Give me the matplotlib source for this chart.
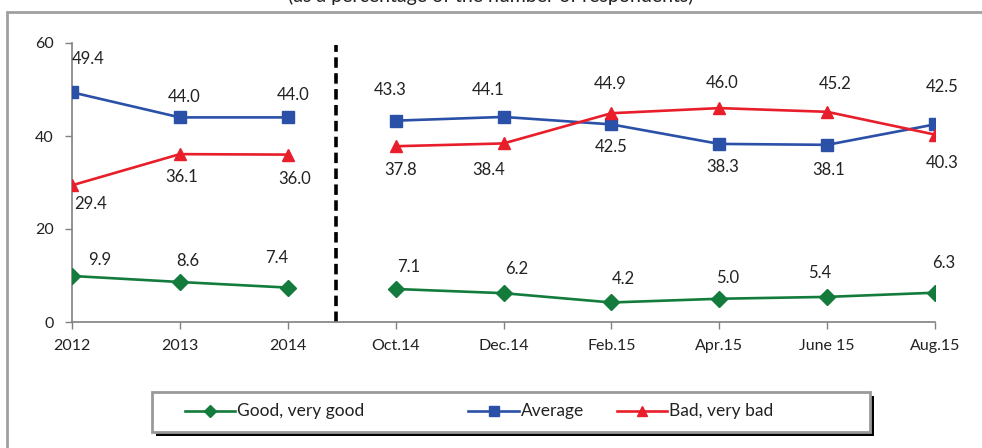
import matplotlib.pyplot as plt
import numpy as np
from matplotlib.lines import Line2D
from matplotlib.patches import Rectangle

plt.rcParams['font.family'] = ['Lato', 'DejaVu Sans']

periods = ['2012', '2013', '2014', 'Oct.14', 'Dec.14', 'Feb.15', 'Apr.15', 'June 15', 'Aug.15']
good = [9.9, 8.6, 7.4, 7.1, 6.2, 4.2, 5.0, 5.4, 6.3]
average = [49.4, 44.0, 44.0, 43.3, 44.1, 42.5, 38.3, 38.1, 42.5]
bad = [29.4, 36.1, 36.0, 37.8, 38.4, 44.9, 46.0, 45.2, 40.3]
n_annual = 3  # first three points are yearly, then a break

green = '#137b3c'
blue = '#2a50a8'
red = '#e81e2b'

# label offsets in pixels (dx, dy), dy positive = up
good_off = [(28, 16), (8, 21), (-11, 30), (13, 22), (13, 24), (12, 23), (8, 21), (-7, 24), (9, 30)]
avg_off = [(16, 33), (4, 20), (5, 22), (-5, 31), (-15, 27), (0, -23), (3, -23), (2, -25), (7, 37)]
bad_off = [(19, -19), (2, -23), (7, -24), (5, -24), (-15, -27), (-1, 29), (3, 25), (8, 28), (7, -28)]

fig = plt.figure(figsize=(9.82, 4.48), dpi=100)
ax = fig.add_axes([72 / 982, 1 - 322 / 448, (935 - 72) / 982, (322 - 43) / 448])

x = np.arange(len(periods))
series = [
    (good, green, 'D', 8, good_off),
    (average, blue, 's', 8, avg_off),
    (bad, red, '^', 9, bad_off),
]
for vals, col, mk, ms, offs in series:
    v = np.array(vals)
    ax.plot(x[:n_annual], v[:n_annual], color=col, marker=mk, markersize=ms, lw=1.9, zorder=3)
    ax.plot(x[n_annual:], v[n_annual:], color=col, marker=mk, markersize=ms, lw=1.9, zorder=3)
    for xi, yi, (dx, dy) in zip(x, v, offs):
        ax.annotate(f'{yi:.1f}', (xi, yi), xytext=(dx * 0.72, dy * 0.72), textcoords='offset points',
                    ha='center', va='center', fontsize=12, color='#222222')

ax.axvline(2.445, ymin=0, ymax=59.6 / 60, color='black', lw=2.6, dashes=(2.9, 1.5), zorder=2)

ax.set_xlim(0, 8)
ax.set_ylim(0, 60)
ax.set_xticks(x, periods)
ax.set_yticks([0, 20, 40, 60])
ax.tick_params(axis='both', labelsize=11.5, colors='#222222', length=5, width=1, direction='out')
ax.tick_params(axis='x', color='#808080', pad=7)
ax.tick_params(axis='y', color='#808080', pad=8)
for s in ['top', 'right']:
    ax.spines[s].set_visible(False)
for s in ['left', 'bottom']:
    ax.spines[s].set_color('#808080')
    ax.spines[s].set_linewidth(1.2)

# outer chart frame
fig.patches.append(Rectangle((7 / 982, -0.1), 1.2, 1.1 - 12 / 448, transform=fig.transFigure,
                             fill=False, edgecolor='#a0a0a0', lw=2))

# title (clipped at top of image, as in the source)
fig.text(0.5, 1 - 2 / 448, '(as a percentage of the number of respondents)', ha='center', va='baseline',
         fontsize=14, color='#222222')

# legend box with shadow
lx0, lx1, ly0, ly1 = 152 / 982, 870 / 982, 1 - 432 / 448, 1 - 392 / 448
fig.patches.append(Rectangle((lx0 + 4 / 982, ly0 - 4 / 448), lx1 - lx0, ly1 - ly0, transform=fig.transFigure,
                             facecolor='black', edgecolor='black', lw=0))
fig.patches.append(Rectangle((lx0, ly0), lx1 - lx0, ly1 - ly0, transform=fig.transFigure,
                             facecolor='white', edgecolor='#999999', lw=2))
yl = 1 - 411 / 448
leg_items = [('Good, very good', green, 'D', 6, 185, 235), ('Average', blue, 's', 7, 468, 519),
             ('Bad, very bad', red, '^', 7, 617, 667)]
for lab, col, mk, ms, xa, xb in leg_items:
    fig.add_artist(Line2D([xa / 982, xb / 982], [yl, yl], transform=fig.transFigure, color=col, lw=1.9))
    fig.add_artist(Line2D([(xa + xb) / 2 / 982], [yl], transform=fig.transFigure, color=col,
                          marker=mk, markersize=ms, lw=0))
    fig.text(xb / 982 + 2 / 982, yl, lab, ha='left', va='center', fontsize=12.5, color='#222222')

fig.savefig('out.png', dpi=100)
